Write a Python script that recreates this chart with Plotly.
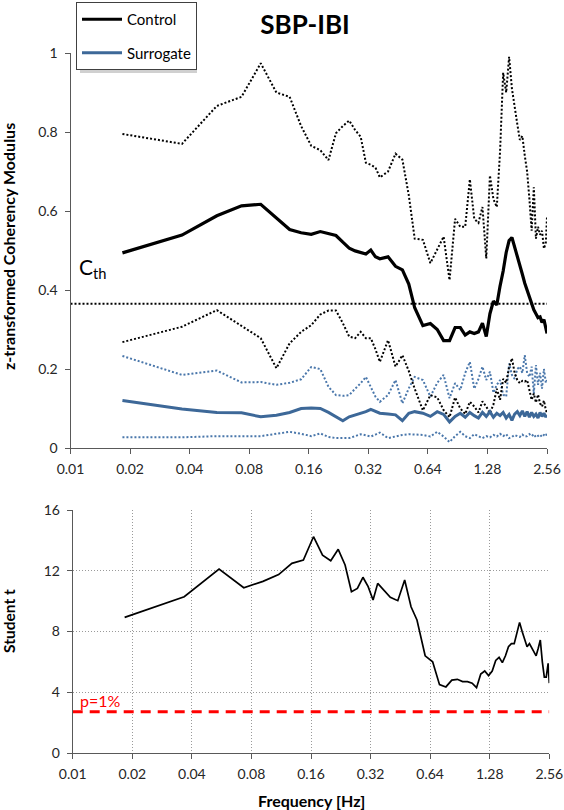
import plotly.graph_objects as go
import math

# ---------------- data ----------------
freq = [0.0183, 0.0366, 0.0549, 0.0732, 0.0915, 0.1098, 0.1281, 0.1464, 0.1647, 0.1830,
        0.2013, 0.2196, 0.2379, 0.2562, 0.2745, 0.2928, 0.3111, 0.3294, 0.3477, 0.3660,
        0.4026, 0.4392, 0.4758, 0.5124, 0.5490, 0.6039, 0.6588, 0.7137, 0.7686, 0.8235,
        0.8784, 0.9333, 0.9882, 1.0431, 1.0980, 1.1529, 1.2078, 1.2627, 1.3176, 1.3725,
        1.4274, 1.4823, 1.5372, 1.5921, 1.6470, 1.7019, 1.7568, 1.8117, 1.8666, 1.9215,
        1.9764, 2.0313, 2.0862, 2.1411, 2.1960, 2.2509, 2.3058, 2.3607, 2.4156, 2.4705,
        2.5254, 2.5600]

control_mean = [0.494, 0.539, 0.588, 0.613, 0.617, 0.582, 0.553, 0.545, 0.541, 0.548,
                0.542, 0.538, 0.521, 0.506, 0.499, 0.495, 0.491, 0.501, 0.484, 0.479,
                0.484, 0.460, 0.451, 0.415, 0.355, 0.310, 0.315, 0.300, 0.272, 0.272,
                0.305, 0.305, 0.286, 0.294, 0.290, 0.294, 0.316, 0.282, 0.340, 0.372,
                0.362, 0.410, 0.448, 0.495, 0.525, 0.533, 0.510, 0.485, 0.466, 0.440,
                0.417, 0.398, 0.385, 0.365, 0.350, 0.340, 0.330, 0.332, 0.318, 0.325,
                0.305, 0.290]

control_upper = [0.795, 0.770, 0.866, 0.889, 0.974, 0.900, 0.889, 0.815, 0.765, 0.754,
                 0.729, 0.797, 0.815, 0.829, 0.805, 0.788, 0.722, 0.717, 0.710, 0.685,
                 0.700, 0.745, 0.730, 0.640, 0.530, 0.527, 0.468, 0.505, 0.535, 0.425,
                 0.580, 0.560, 0.560, 0.680, 0.580, 0.570, 0.610, 0.480, 0.690, 0.630,
                 0.610, 0.750, 0.950, 0.900, 0.990, 0.910, 0.860, 0.820, 0.780, 0.790,
                 0.740, 0.700, 0.630, 0.550, 0.660, 0.530, 0.560, 0.540, 0.550, 0.505,
                 0.520, 0.585]

control_lower = [0.268, 0.307, 0.349, 0.310, 0.278, 0.202, 0.265, 0.294, 0.311, 0.338,
                 0.348, 0.348, 0.316, 0.282, 0.278, 0.294, 0.278, 0.278, 0.250, 0.218,
                 0.273, 0.206, 0.235, 0.195, 0.150, 0.095, 0.134, 0.128, 0.096, 0.078,
                 0.128, 0.100, 0.086, 0.117, 0.105, 0.090, 0.118, 0.105, 0.088, 0.110,
                 0.150, 0.122, 0.175, 0.165, 0.205, 0.227, 0.190, 0.172, 0.164, 0.170,
                 0.168, 0.172, 0.147, 0.122, 0.138, 0.115, 0.135, 0.113, 0.105, 0.120,
                 0.096, 0.090]

surrogate_mean = [0.120, 0.099, 0.090, 0.089, 0.079, 0.083, 0.090, 0.100, 0.101, 0.100,
                  0.090, 0.078, 0.069, 0.079, 0.083, 0.088, 0.092, 0.098, 0.092, 0.088,
                  0.086, 0.084, 0.069, 0.088, 0.092, 0.088, 0.080, 0.092, 0.085, 0.066,
                  0.080, 0.088, 0.078, 0.090, 0.082, 0.076, 0.090, 0.080, 0.092, 0.078,
                  0.088, 0.082, 0.090, 0.076, 0.085, 0.070, 0.086, 0.092, 0.082, 0.094,
                  0.080, 0.092, 0.078, 0.090, 0.080, 0.086, 0.076, 0.090, 0.080, 0.088,
                  0.078, 0.084]

surrogate_upper = [0.233, 0.185, 0.196, 0.166, 0.167, 0.160, 0.165, 0.174, 0.205, 0.200,
                   0.155, 0.134, 0.132, 0.134, 0.150, 0.164, 0.180, 0.155, 0.130, 0.117,
                   0.134, 0.172, 0.113, 0.151, 0.180, 0.172, 0.130, 0.165, 0.185, 0.126,
                   0.164, 0.147, 0.190, 0.218, 0.150, 0.175, 0.206, 0.172, 0.193, 0.140,
                   0.160, 0.172, 0.135, 0.130, 0.214, 0.185, 0.175, 0.200, 0.206, 0.190,
                   0.235, 0.190, 0.180, 0.206, 0.138, 0.210, 0.160, 0.190, 0.150, 0.200,
                   0.165, 0.172]

surrogate_lower = [0.027, 0.027, 0.030, 0.029, 0.030, 0.036, 0.041, 0.036, 0.030, 0.037,
                   0.028, 0.025, 0.025, 0.025, 0.030, 0.035, 0.032, 0.029, 0.034, 0.039,
                   0.025, 0.030, 0.033, 0.035, 0.034, 0.033, 0.029, 0.041, 0.029, 0.015,
                   0.030, 0.041, 0.030, 0.025, 0.035, 0.030, 0.025, 0.030, 0.027, 0.033,
                   0.029, 0.036, 0.030, 0.035, 0.025, 0.028, 0.033, 0.030, 0.028, 0.034,
                   0.029, 0.030, 0.035, 0.030, 0.035, 0.027, 0.031, 0.034, 0.028, 0.033,
                   0.030, 0.039]

student_t = [8.93, 10.29, 12.11, 10.88, 11.30, 11.75, 12.49, 12.71, 14.24, 13.03,
             12.66, 13.41, 12.38, 10.62, 10.84, 11.57, 10.95, 10.07, 11.17, 10.84,
             10.25, 10.03, 11.39, 9.63, 8.76, 6.40, 6.00, 4.50, 4.35, 4.80,
             4.85, 4.70, 4.70, 4.60, 4.30, 5.20, 5.40, 5.10, 5.40, 6.10,
             6.30, 5.95, 6.40, 7.00, 7.20, 7.20, 8.00, 8.60, 8.00, 7.40,
             7.00, 7.20, 6.90, 6.60, 6.40, 6.90, 7.44, 6.00, 5.00, 5.00,
             5.90, 4.60]

c_threshold = 0.365
t_critical = 2.72

freq_ticks = [0.01, 0.02, 0.04, 0.08, 0.16, 0.32, 0.64, 1.28, 2.56]
freq_tick_labels = ["0.01", "0.02", "0.04", "0.08", "0.16", "0.32", "0.64", "1.28", "2.56"]
coh_ticks = [0, 0.2, 0.4, 0.6, 0.8, 1.0]
coh_tick_labels = ["0", "0.2", "0.4", "0.6", "0.8", "1"]
t_ticks = [0, 4, 8, 12, 16]
t_tick_labels = ["0", "4", "8", "12", "16"]

# ---------------- figure ----------------
W, H = 564, 810
FONT = "Lato"
BLACK = "#000000"
BLUE = "#3d6898"
BLUE_DOT = "#4a77ab"
AXIS = "#595959"

def px(x):
    return x / W

def py(y):
    return 1 - y / H

fig = go.Figure()

# surrogate (drawn first)
fig.add_trace(go.Scatter(x=freq, y=surrogate_upper, mode="lines", showlegend=False,
                         line=dict(color=BLUE_DOT, width=2, dash="2px,2px"),
                         xaxis="x", yaxis="y", hoverinfo="skip"))
fig.add_trace(go.Scatter(x=freq, y=surrogate_lower, mode="lines", showlegend=False,
                         line=dict(color=BLUE_DOT, width=2, dash="2px,2px"),
                         xaxis="x", yaxis="y", hoverinfo="skip"))
# control bands
fig.add_trace(go.Scatter(x=freq, y=control_upper, mode="lines", showlegend=False,
                         line=dict(color=BLACK, width=2, dash="2px,2px"),
                         xaxis="x", yaxis="y", hoverinfo="skip"))
fig.add_trace(go.Scatter(x=freq, y=control_lower, mode="lines", showlegend=False,
                         line=dict(color=BLACK, width=2, dash="2px,2px"),
                         xaxis="x", yaxis="y", hoverinfo="skip"))
# means
fig.add_trace(go.Scatter(x=freq, y=control_mean, mode="lines", name="Control",
                         legendgroup="c",
                         line=dict(color=BLACK, width=3.2),
                         xaxis="x", yaxis="y"))
fig.add_trace(go.Scatter(x=freq, y=surrogate_mean, mode="lines", name="Surrogate",
                         legendgroup="s",
                         line=dict(color=BLUE, width=3),
                         xaxis="x", yaxis="y"))
# threshold C_th
fig.add_trace(go.Scatter(x=[freq_ticks[0], freq_ticks[-1]], y=[c_threshold, c_threshold],
                         mode="lines", showlegend=False,
                         line=dict(color=BLACK, width=2, dash="2px,2px"),
                         xaxis="x", yaxis="y", hoverinfo="skip"))

# bottom panel
fig.add_trace(go.Scatter(x=[freq_ticks[0], freq_ticks[-1]], y=[t_critical, t_critical],
                         mode="lines", showlegend=False,
                         line=dict(color="#ff0000", width=3, dash="10px,7px"),
                         xaxis="x2", yaxis="y2", hoverinfo="skip"))
fig.add_trace(go.Scatter(x=freq, y=student_t, mode="lines", showlegend=False,
                         line=dict(color=BLACK, width=1.7),
                         xaxis="x2", yaxis="y2"))

tickfont = dict(family=FONT, size=14, color="#262626")
xrange = [math.log10(freq_ticks[0]), math.log10(freq_ticks[-1])]

common_x = dict(type="log", range=xrange, tickmode="array", tickvals=freq_ticks,
                ticktext=freq_tick_labels, showline=True, linecolor=AXIS, linewidth=1,
                ticks="outside", ticklen=5, tickcolor=AXIS, tickwidth=1,
                tickfont=tickfont, zeroline=False, automargin=False, ticklabelstandoff=3)
common_y = dict(showline=True, linecolor=AXIS, linewidth=1, ticks="outside", ticklen=5,
                tickcolor=AXIS, tickwidth=1, tickfont=tickfont, zeroline=False,
                automargin=False, ticklabelstandoff=4)

fig.update_layout(
    width=W, height=H,
    margin=dict(l=0, r=0, t=0, b=0),
    paper_bgcolor="white", plot_bgcolor="white",
    font=dict(family=FONT, color="#000000"),
    title=dict(text="<b>SBP-IBI</b>", x=px(305), y=py(25), xref="container",
               yref="container", xanchor="center", yanchor="middle",
               font=dict(family=FONT, size=26, color="#000000")),
    xaxis=dict(domain=[px(70.5), px(547)], anchor="y", showgrid=False, **common_x),
    yaxis=dict(domain=[py(448), py(53)], anchor="x", range=[0, 1], tickmode="array",
               tickvals=coh_ticks, ticktext=coh_tick_labels, showgrid=False, **common_y),
    xaxis2=dict(domain=[px(72.7), px(549.3)], anchor="y2", showgrid=True,
                gridcolor="#9a9a9a", gridwidth=1, griddash="1px,2px", **common_x),
    yaxis2=dict(domain=[py(753), py(510)], anchor="x2", range=[0, 16], tickmode="array",
                tickvals=t_ticks, ticktext=t_tick_labels, showgrid=True,
                gridcolor="#9a9a9a", gridwidth=1, griddash="1px,2px", **common_y),
    legend=dict(x=px(76), y=py(2), xanchor="left", yanchor="top",
                bgcolor="white", bordercolor="#404040", borderwidth=1,
                font=dict(family=FONT, size=15, color="#000000"),
                itemwidth=40, tracegroupgap=11),
    showlegend=True,
    shapes=[dict(type="rect", xref="paper", yref="paper",
                 x0=px(80), x1=px(197), y0=py(73), y1=py(6),
                 fillcolor="#d0d0d0", line=dict(width=0), layer="above")],
    annotations=[
        dict(text="<b>z-transformed Coherency Modulus</b>", x=px(9), y=py(247),
             xref="paper", yref="paper", showarrow=False, textangle=-90,
             xanchor="center", yanchor="middle",
             font=dict(family=FONT, size=16, color="#000000")),
        dict(text="<b>Student t</b>", x=px(9), y=py(621),
             xref="paper", yref="paper", showarrow=False, textangle=-90,
             xanchor="center", yanchor="middle",
             font=dict(family=FONT, size=15.5, color="#000000")),
        dict(text="<b>Frequency [Hz]</b>", x=px(311), y=py(800),
             xref="paper", yref="paper", showarrow=False,
             xanchor="center", yanchor="middle",
             font=dict(family=FONT, size=16, color="#000000")),
        dict(text="C<sub>th</sub>", x=px(77), y=py(268),
             xref="paper", yref="paper", showarrow=False,
             xanchor="left", yanchor="middle",
             font=dict(family=FONT, size=21, color="#000000")),
        dict(text="p=1%", x=px(78), y=py(700),
             xref="paper", yref="paper", showarrow=False,
             xanchor="left", yanchor="middle",
             font=dict(family=FONT, size=16, color="#ff0000")),
    ],
)

fig.write_html("out.html",
               config={"displayModeBar": False},
               post_script="document.body.style.margin='0px';"
                           "document.body.style.overflow='hidden';")
